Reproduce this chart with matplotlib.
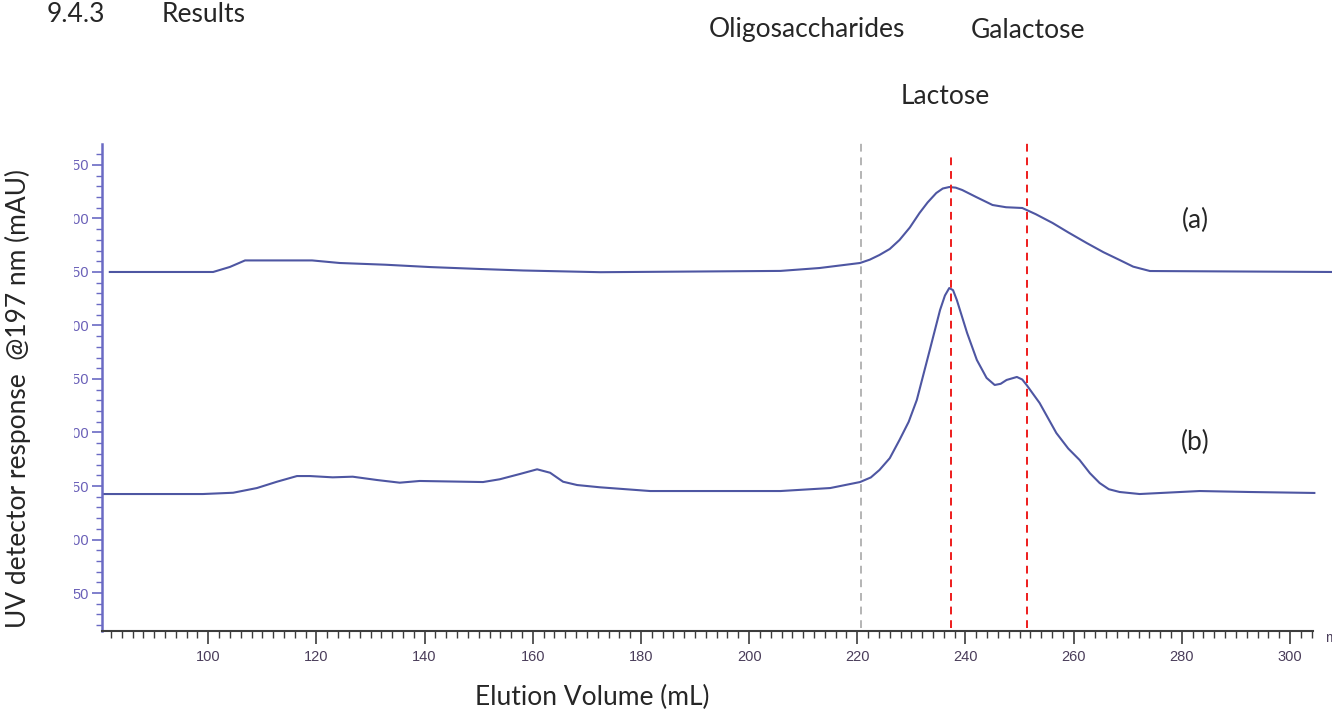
import numpy as np
import matplotlib
matplotlib.use("Agg")
from matplotlib import pyplot as plt
from matplotlib.ticker import MultipleLocator
from matplotlib.transforms import Bbox

# chromatogram (a) - elution volume (mL) / UV response (mAU)
vol_a = [81.8, 100.9, 104.0, 106.8, 119.2, 124.3, 132.7, 141.0, 150.2, 158.2, 172.5,
         205.8, 213.0, 220.5, 222.3, 224.1, 226.0, 227.8, 229.7, 231.5, 233.0, 234.6,
         235.8, 237.0, 238.2, 239.4, 242.0, 245.0, 247.5, 250.5, 253.0, 256.1, 259.0,
         262.4, 265.5, 268.5, 271.0, 274.1, 307.7]
uv_a = [350.0, 350.0, 354.7, 360.8, 360.8, 358.4, 356.8, 354.6, 352.8, 351.4, 349.8,
        351.0, 353.7, 358.4, 361.5, 365.9, 371.5, 379.9, 391.5, 405.1, 415.0, 423.8,
        428.0, 429.4, 428.8, 426.6, 420.0, 412.6, 410.5, 409.8, 404.0, 395.8, 387.0,
        377.1, 368.5, 361.2, 355.0, 350.9, 350.0]

# chromatogram (b)
vol_b = [80.6, 99.0, 104.6, 109.0, 112.7, 116.4, 118.8, 123.0, 126.7, 131.2, 135.4,
         139.1, 150.8, 153.9, 157.6, 160.8, 163.2, 165.6, 168.2, 172.4, 181.7,
         205.8, 215.0, 220.5, 222.5, 224.1, 226.0, 227.8, 229.5, 231.0, 233.4, 235.3,
         236.2, 237.0, 237.7, 238.4, 240.3, 242.1, 243.9, 245.4, 246.5, 247.6, 249.5,
         250.5, 251.3, 253.7, 256.8, 259.0, 261.1, 263.0, 264.8, 266.5, 268.5, 272.2,
         283.3, 292.5, 304.5]
uv_b = [142.5, 142.5, 143.7, 148.1, 154.0, 159.3, 159.3, 158.1, 158.7, 155.6, 153.1,
        154.7, 153.7, 156.3, 161.2, 165.6, 162.4, 154.0, 150.9, 148.8, 145.3,
        145.3, 148.1, 153.7, 158.0, 165.0, 176.0, 193.0, 210.0, 230.4, 277.1, 314.5,
        328.0, 335.0, 333.0, 323.8, 293.0, 267.8, 251.0, 244.4, 245.5, 249.1, 251.9,
        249.5, 244.4, 227.6, 199.5, 185.0, 174.3, 162.0, 152.8, 147.0, 144.4, 142.5,
        145.3, 144.4, 143.5]

# dashed marker lines: oligosaccharides, lactose, galactose
marker_vol = [220.6, 237.4, 251.4]
marker_col = ["#b4b4b4", "#ee1c1c", "#ee1c1c"]
marker_top = [470.6, 461.2, 473.4]

y_ticks = [50, 100, 150, 200, 250, 300, 350, 400, 450]
x_ticks = [100, 120, 140, 160, 180, 200, 220, 240, 260, 280, 300]

W, H = 1332, 711
fig = plt.figure(figsize=(W / 100, H / 100), dpi=100)
ax = fig.add_axes([101.7 / W, 1 - 631 / H, (1313 - 101.7) / W, (631 - 144) / H])

trace = "#4e56a2"
ax.plot(vol_a, uv_a, color=trace, lw=1.5, clip_on=False, solid_joinstyle="round")
ax.plot(vol_b, uv_b, color=trace, lw=1.5, clip_on=False, solid_joinstyle="round")

for v, c, top in zip(marker_vol, marker_col, marker_top):
    ax.plot([v, v], [17.3, top], color=c, lw=1.4, ls=(0, (4, 3)), clip_on=False)

ax.set_xlim(80.3, 304.25)
ax.set_ylim(14.5, 469.6)

for s in ["top", "right"]:
    ax.spines[s].set_visible(False)
ax.spines["left"].set_color("#6a6ac4")
ax.spines["left"].set_linewidth(1.8)
ax.spines["bottom"].set_color("#3c3c3c")
ax.spines["bottom"].set_linewidth(1.5)

ax.set_xticks(x_ticks)
ax.set_yticks(y_ticks)
ax.xaxis.set_minor_locator(MultipleLocator(2))
ax.yaxis.set_minor_locator(MultipleLocator(10))
ax.tick_params(axis="x", which="major", length=9, width=1.2, color="#3c3c3c",
               labelsize=10.5, labelcolor="#4a3d5a", pad=5)
ax.tick_params(axis="x", which="minor", length=5, width=1.0, color="#3c3c3c")
ax.tick_params(axis="y", which="major", length=7, width=1.2, color="#6a6ac4",
               labelsize=10.5, labelcolor="#6a60b8", pad=2)
ax.tick_params(axis="y", which="minor", length=4, width=1.0, color="#6a6ac4")
for lbl in ax.get_xticklabels() + ax.get_yticklabels():
    lbl.set_family(["Liberation Sans Narrow", "Liberation Sans"])

# the y tick labels are cut off at the left edge of the scan
clip = Bbox([[74, 0], [W, H]])
for t in ax.yaxis.get_major_ticks():
    t.label1.set_clip_box(clip)
    t.label1.set_clip_on(True)

font = "Lato"
fs = 19
tc = "#262626"
fig.text(1325 / W, 1 - 638 / H, "m", fontsize=10, color="#4a3d5a",
         family="Liberation Sans", va="center", ha="left")
fig.text(47 / W, 1 - 15 / H, "9.4.3", fontsize=fs, family=font, color=tc, va="center")
fig.text(162 / W, 1 - 15 / H, "Results", fontsize=fs, family=font, color=tc, va="center")
fig.text(807 / W, 1 - 30 / H, "Oligosaccharides", fontsize=fs, family=font, color=tc, ha="center", va="center")
fig.text(1028 / W, 1 - 30 / H, "Galactose", fontsize=fs, family=font, color=tc, ha="center", va="center")
fig.text(945 / W, 1 - 96 / H, "Lactose", fontsize=fs, family=font, color=tc, ha="center", va="center")
fig.text(1195 / W, 1 - 220 / H, "(a)", fontsize=fs, family=font, color=tc, ha="center", va="center")
fig.text(1195 / W, 1 - 442 / H, "(b)", fontsize=fs, family=font, color=tc, ha="center", va="center")
fig.text(18 / W, 1 - 398 / H, "UV detector response  @197 nm (mAU)", fontsize=fs, family=font,
         color=tc, rotation=90, ha="center", va="center")
fig.text(592 / W, 1 - 697 / H, "Elution Volume (mL)", fontsize=fs, family=font, color=tc,
         ha="center", va="center")

fig.savefig("out.png", dpi=100)
